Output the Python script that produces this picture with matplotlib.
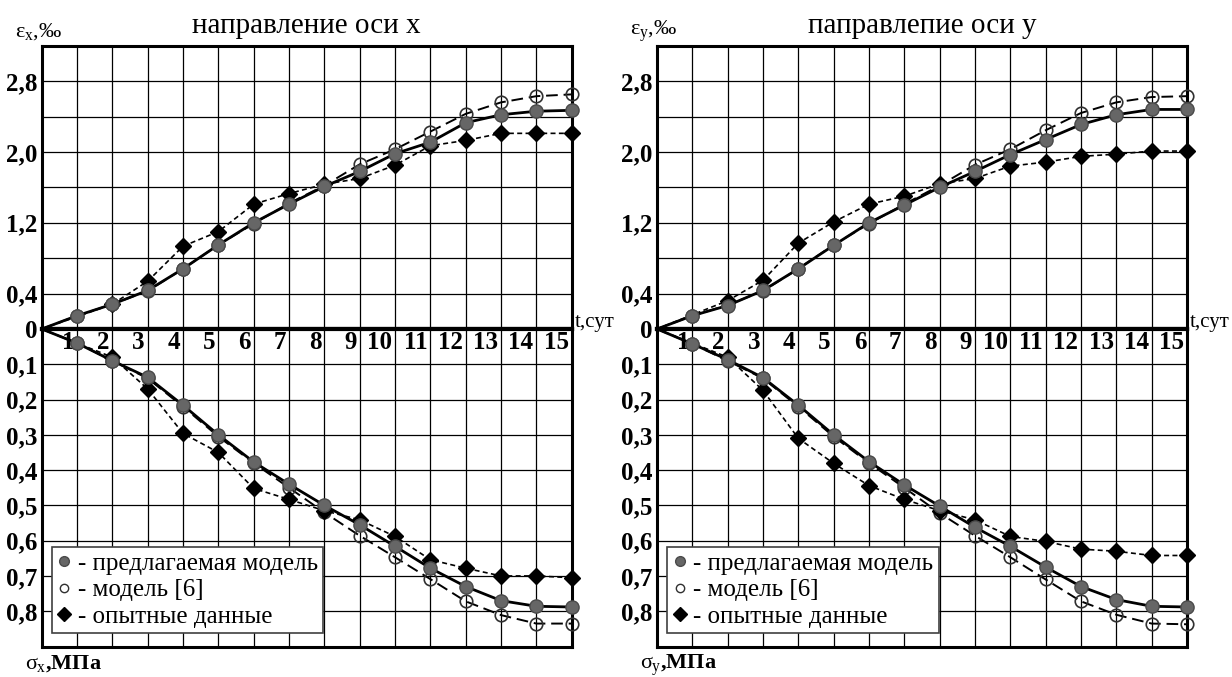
import matplotlib
matplotlib.use('Agg')
import matplotlib.pyplot as plt
from matplotlib.lines import Line2D

plt.rcParams['font.family'] = ['Liberation Serif', 'DejaVu Serif']
plt.rcParams['mathtext.fontset'] = 'custom'
plt.rcParams['mathtext.rm'] = 'Liberation Serif'
plt.rcParams['mathtext.it'] = 'Liberation Serif'
plt.rcParams['mathtext.bf'] = 'Liberation Serif:bold'

# days, t (сут)
days = list(range(0, 16))
days_exp = [0] + list(range(2, 16))

# направление оси x
eps_x_model = [0, 0.15, 0.28, 0.435, 0.68, 0.95, 1.20, 1.41, 1.61, 1.78, 1.98, 2.11, 2.33, 2.42, 2.46, 2.47]
eps_x_ref6 = [0, 0.15, 0.28, 0.43, 0.68, 0.95, 1.19, 1.42, 1.62, 1.86, 2.03, 2.23, 2.43, 2.56, 2.63, 2.65]
eps_x_exp = [0, 0.28, 0.54, 0.935, 1.10, 1.41, 1.53, 1.635, 1.70, 1.85, 2.07, 2.13, 2.21, 2.21, 2.21]
sig_x_model = [0, 0.04, 0.09, 0.137, 0.216, 0.30, 0.377, 0.44, 0.50, 0.555, 0.616, 0.678, 0.73, 0.77, 0.786, 0.788]
sig_x_ref6 = [0, 0.04, 0.09, 0.14, 0.22, 0.305, 0.38, 0.45, 0.52, 0.586, 0.647, 0.709, 0.772, 0.811, 0.835, 0.835]
sig_x_exp = [0, 0.08, 0.17, 0.296, 0.35, 0.452, 0.483, 0.515, 0.541, 0.588, 0.654, 0.678, 0.70, 0.70, 0.705]

# направление оси y
eps_y_model = [0, 0.15, 0.265, 0.435, 0.68, 0.945, 1.20, 1.40, 1.60, 1.78, 1.97, 2.14, 2.31, 2.42, 2.48, 2.48]
eps_y_ref6 = [0, 0.15, 0.27, 0.43, 0.68, 0.95, 1.19, 1.41, 1.62, 1.855, 2.03, 2.245, 2.44, 2.56, 2.62, 2.63]
eps_y_exp = [0, 0.32, 0.55, 0.97, 1.21, 1.41, 1.50, 1.64, 1.70, 1.84, 1.885, 1.95, 1.975, 2.01, 2.01]
sig_y_model = [0, 0.042, 0.087, 0.138, 0.216, 0.30, 0.376, 0.442, 0.502, 0.562, 0.616, 0.675, 0.73, 0.767, 0.786, 0.788]
sig_y_ref6 = [0, 0.042, 0.09, 0.14, 0.22, 0.305, 0.38, 0.45, 0.522, 0.586, 0.647, 0.71, 0.772, 0.81, 0.835, 0.837]
sig_y_exp = [0, 0.08, 0.174, 0.31, 0.381, 0.444, 0.483, 0.515, 0.541, 0.588, 0.602, 0.624, 0.63, 0.642, 0.642]

eps_ticks = [0, 0.4, 1.2, 2.0, 2.8]
eps_minor = [0.8, 1.6, 2.4]
sig_ticks = [0.1, 0.2, 0.3, 0.4, 0.5, 0.6, 0.7, 0.8]
legend_labels = ['- предлагаемая модель', '- модель [6]', '- опытные данные']

GREY = '#666666'
W, H = 1232, 677


def fmt(v):
    return '0' if v == 0 else f'{v:.1f}'.replace('.', ',')


def style_axes(ax):
    ax.set_xlim(0, 15)
    ax.set_xticks(days)
    ax.tick_params(axis='both', which='both', length=0, labelbottom=False, pad=3,
                   labelsize=18)
    for lab in ax.get_yticklabels():
        lab.set_fontweight('bold')
    ax.grid(True, which='both', color='black', lw=0.9)
    ax.set_axisbelow(True)
    for s in ax.spines.values():
        s.set_linewidth(2.2)


def plot_series(ax, model, ref6, exp):
    ax.plot(days, ref6, color='black', lw=1.4, ls=(0, (6, 3)), marker='o', ms=9,
            mfc='none', mec='#303030', mew=1.2, markevery=slice(1, None), clip_on=False, zorder=3)
    ax.plot(days_exp, exp, color='black', lw=1.2, ls=(0, (3, 2)), marker='D', ms=8,
            mfc='black', mec='black', markevery=slice(1, None), clip_on=False, zorder=4)
    ax.plot(days, model, color='black', lw=2.0, marker='o', ms=9.5, mfc=GREY, mec='#4a4a4a',
            markevery=slice(1, None), clip_on=False, zorder=5)


def draw_panel(fig, left_px, title, eps_label, sig_label, eps, sig):
    left = left_px / W
    width = 530 / W
    ax_e = fig.add_axes([left, 1 - 329 / H, width, (329 - 45.7) / H])
    ax_s = fig.add_axes([left, 1 - 646.5 / H, width, (646.5 - 329) / H])

    ax_e.set_ylim(0, 3.2)
    ax_e.set_yticks(eps_ticks)
    ax_e.set_yticklabels([fmt(v) for v in eps_ticks])
    ax_e.set_yticks(eps_minor, minor=True)
    style_axes(ax_e)
    ax_e.spines['bottom'].set_linewidth(3)

    ax_s.set_ylim(0.9, 0)
    ax_s.set_yticks(sig_ticks)
    ax_s.set_yticklabels([fmt(v) for v in sig_ticks])
    style_axes(ax_s)
    ax_s.spines['top'].set_linewidth(3)

    plot_series(ax_e, *eps)
    plot_series(ax_s, *sig)

    # day labels under the zero line
    for d in days[1:]:
        ax_s.text(d - 0.08, 0.038, str(d), ha='right', va='center', fontsize=18,
                  fontweight='bold')

    ax_e.text(15.08, 0.02, 't,сут', ha='left', va='baseline', fontsize=15, clip_on=False)
    ax_e.text(0.5, 1.07, title, transform=ax_e.transAxes, ha='center', va='center',
              fontsize=21)
    ax_e.text(-0.05, 1.05, eps_label, transform=ax_e.transAxes, ha='left', va='center',
              fontsize=16)
    ax_s.text(-0.032, -0.07, sig_label, transform=ax_s.transAxes, ha='left', va='baseline',
              fontsize=16, fontweight='bold')

    handles = [
        Line2D([], [], ls='none', marker='o', ms=7, mfc=GREY, mec='#4a4a4a'),
        Line2D([], [], ls='none', marker='o', ms=6, mfc='white', mec='#303030', mew=1),
        Line2D([], [], ls='none', marker='D', ms=7, mfc='black', mec='black'),
    ]
    leg = ax_s.legend(handles, legend_labels, loc='upper left',
                      bbox_to_anchor=(0.0193, 1 - 0.618 / 0.9), borderaxespad=0,
                      fontsize=18, handlelength=0.6, handletextpad=0.25,
                      borderpad=0.2, labelspacing=0.17, fancybox=False,
                      framealpha=1, edgecolor='#404040')
    leg.get_frame().set_linewidth(1.2)
    leg.set_zorder(10)


fig = plt.figure(figsize=(12.32, 6.77), dpi=100)

draw_panel(fig, 41.7, 'направление оси x', r'$\varepsilon_{\mathrm{x}}$,‰', r'$\sigma_{\mathrm{x}}$,МПа',
           (eps_x_model, eps_x_ref6, eps_x_exp), (sig_x_model, sig_x_ref6, sig_x_exp))
draw_panel(fig, 657, 'паправлепие оси y', r'$\varepsilon_{\mathrm{y}}$,‰', r'$\sigma_{\mathrm{y}}$,МПа',
           (eps_y_model, eps_y_ref6, eps_y_exp), (sig_y_model, sig_y_ref6, sig_y_exp))

fig.savefig('out.png', dpi=100)
